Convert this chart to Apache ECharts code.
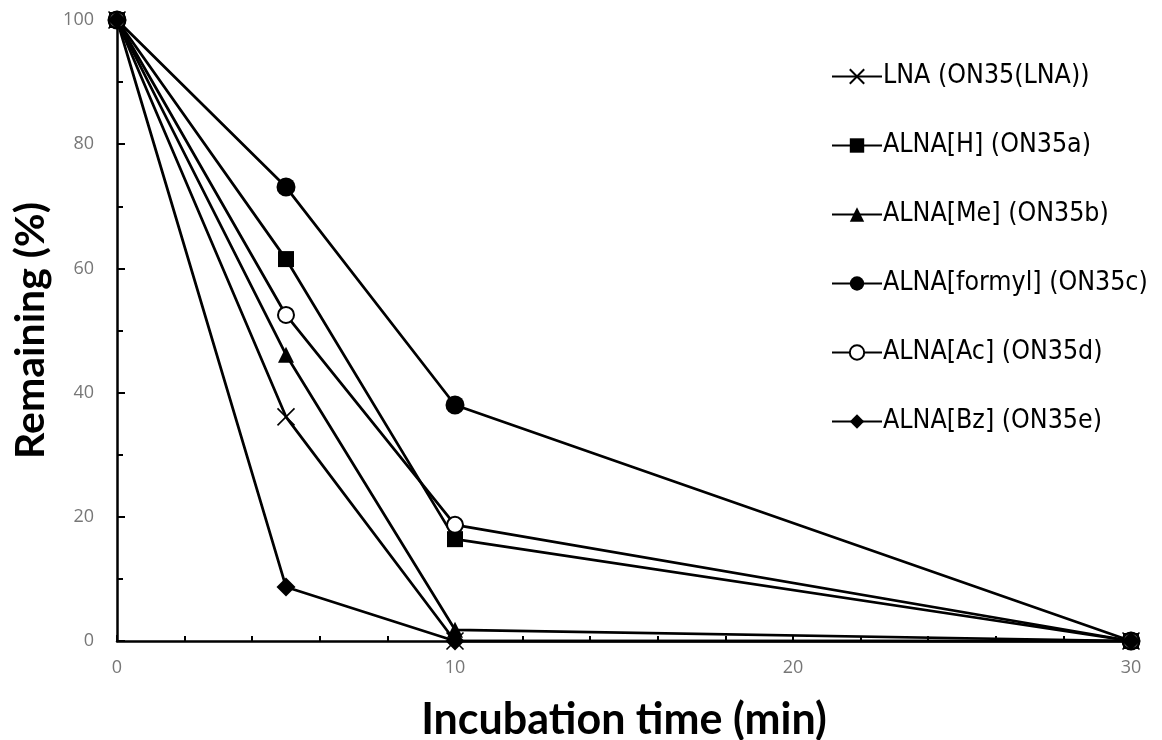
<!DOCTYPE html>
<html>
<head>
<meta charset="utf-8">
<script src="https://cdn.jsdelivr.net/npm/echarts@6/dist/echarts.min.js"></script>
<style>
  html, body { margin: 0; padding: 0; background: #fff; }
  #chart { width: 1162px; height: 740px; }
</style>
</head>
<body>
<div id="chart"></div>
<script>
// Incubation times (min)
const times = [0, 5, 10, 30];

// Remaining oligonucleotide (%) per modification
const lna     = [100, 36.1, 0, 0];
const alnaH   = [100, 61.5, 16.4, 0];
const alnaMe  = [100, 46.1, 1.8, 0];
const alnaFor = [100, 73.1, 38.0, 0];
const alnaAc  = [100, 52.5, 18.7, 0];
const alnaBz  = [100, 8.7, 0, 0];

const seriesNames = [
  'LNA (ON35(LNA))',
  'ALNA[H] (ON35a)',
  'ALNA[Me] (ON35b)',
  'ALNA[formyl] (ON35c)',
  'ALNA[Ac] (ON35d)',
  'ALNA[Bz] (ON35e)'
];
const seriesValues = [lna, alnaH, alnaMe, alnaFor, alnaAc, alnaBz];

const crossPath = 'path://M0,0L10,10M10,0L0,10';
const markers = [
  { symbol: crossPath, size: 17, fill: 'none', border: 1.6 },
  { symbol: 'rect', size: 16, fill: '#000', border: 0 },
  { symbol: 'triangle', size: 16, fill: '#000', border: 0 },
  { symbol: 'circle', size: 19, fill: '#000', border: 0 },
  { symbol: 'circle', size: 16, fill: '#fff', border: 2 },
  { symbol: 'diamond', size: 19, fill: '#000', border: 0 }
];

const series = seriesNames.map((name, i) => ({
  name,
  type: 'line',
  data: times.map((t, j) => [t, seriesValues[i][j]]),
  symbol: markers[i].symbol,
  symbolSize: markers[i].size,
  showAllSymbol: true,
  z: 2 + i,
  lineStyle: { color: '#000', width: 2.75 },
  itemStyle: {
    color: markers[i].fill,
    borderColor: '#000',
    borderWidth: markers[i].border
  },
  emphasis: { disabled: true }
}));

const chart = echarts.init(document.getElementById('chart'), null, { renderer: 'canvas' });
chart.setOption({
  animation: false,
  backgroundColor: '#fff',
  grid: { left: 117, right: 31, top: 20, bottom: 99, containLabel: false, outerBoundsMode: 'none' },
  legend: {
    orient: 'vertical',
    left: 826,
    top: 58,
    itemWidth: 50,
    itemHeight: 18,
    itemGap: 42,
    textStyle: { fontFamily: '"DejaVu Sans Condensed", "DejaVu Sans"', fontSize: 26.5, color: '#000', padding: [0, 0, 0, -4] },
    data: seriesNames
  },
  xAxis: {
    type: 'value',
    min: 0,
    max: 30,
    interval: 10,
    name: 'Incubation time (min)',
    nameLocation: 'middle',
    nameGap: 58,
    nameTextStyle: { fontFamily: 'Lato', fontWeight: 'bold', fontSize: 43, color: '#000' },
    axisLine: { show: true, lineStyle: { color: '#000', width: 2.5 } },
    axisTick: { show: true, inside: true, length: 6, lineStyle: { color: '#000', width: 2 } },
    minorTick: { show: true, splitNumber: 5, length: 5, lineStyle: { color: '#000', width: 2 } },
    axisLabel: { fontFamily: 'Open Sans', fontSize: 18, color: '#777', margin: 18 },
    splitLine: { show: false }
  },
  yAxis: {
    type: 'value',
    min: 0,
    max: 100,
    interval: 20,
    name: 'Remaining (%)',
    nameLocation: 'middle',
    nameGap: 66,
    nameTextStyle: { fontFamily: 'Lato', fontWeight: 'bold', fontSize: 41, color: '#000' },
    axisLine: { show: true, lineStyle: { color: '#000', width: 2.5 } },
    axisTick: { show: true, inside: true, length: 8, lineStyle: { color: '#000', width: 2 } },
    minorTick: { show: true, splitNumber: 2, length: 6, lineStyle: { color: '#000', width: 2 } },
    axisLabel: { fontFamily: 'Open Sans', fontSize: 18, color: '#777', margin: 23 },
    splitLine: { show: false }
  },
  series
});
</script>
</body>
</html>
